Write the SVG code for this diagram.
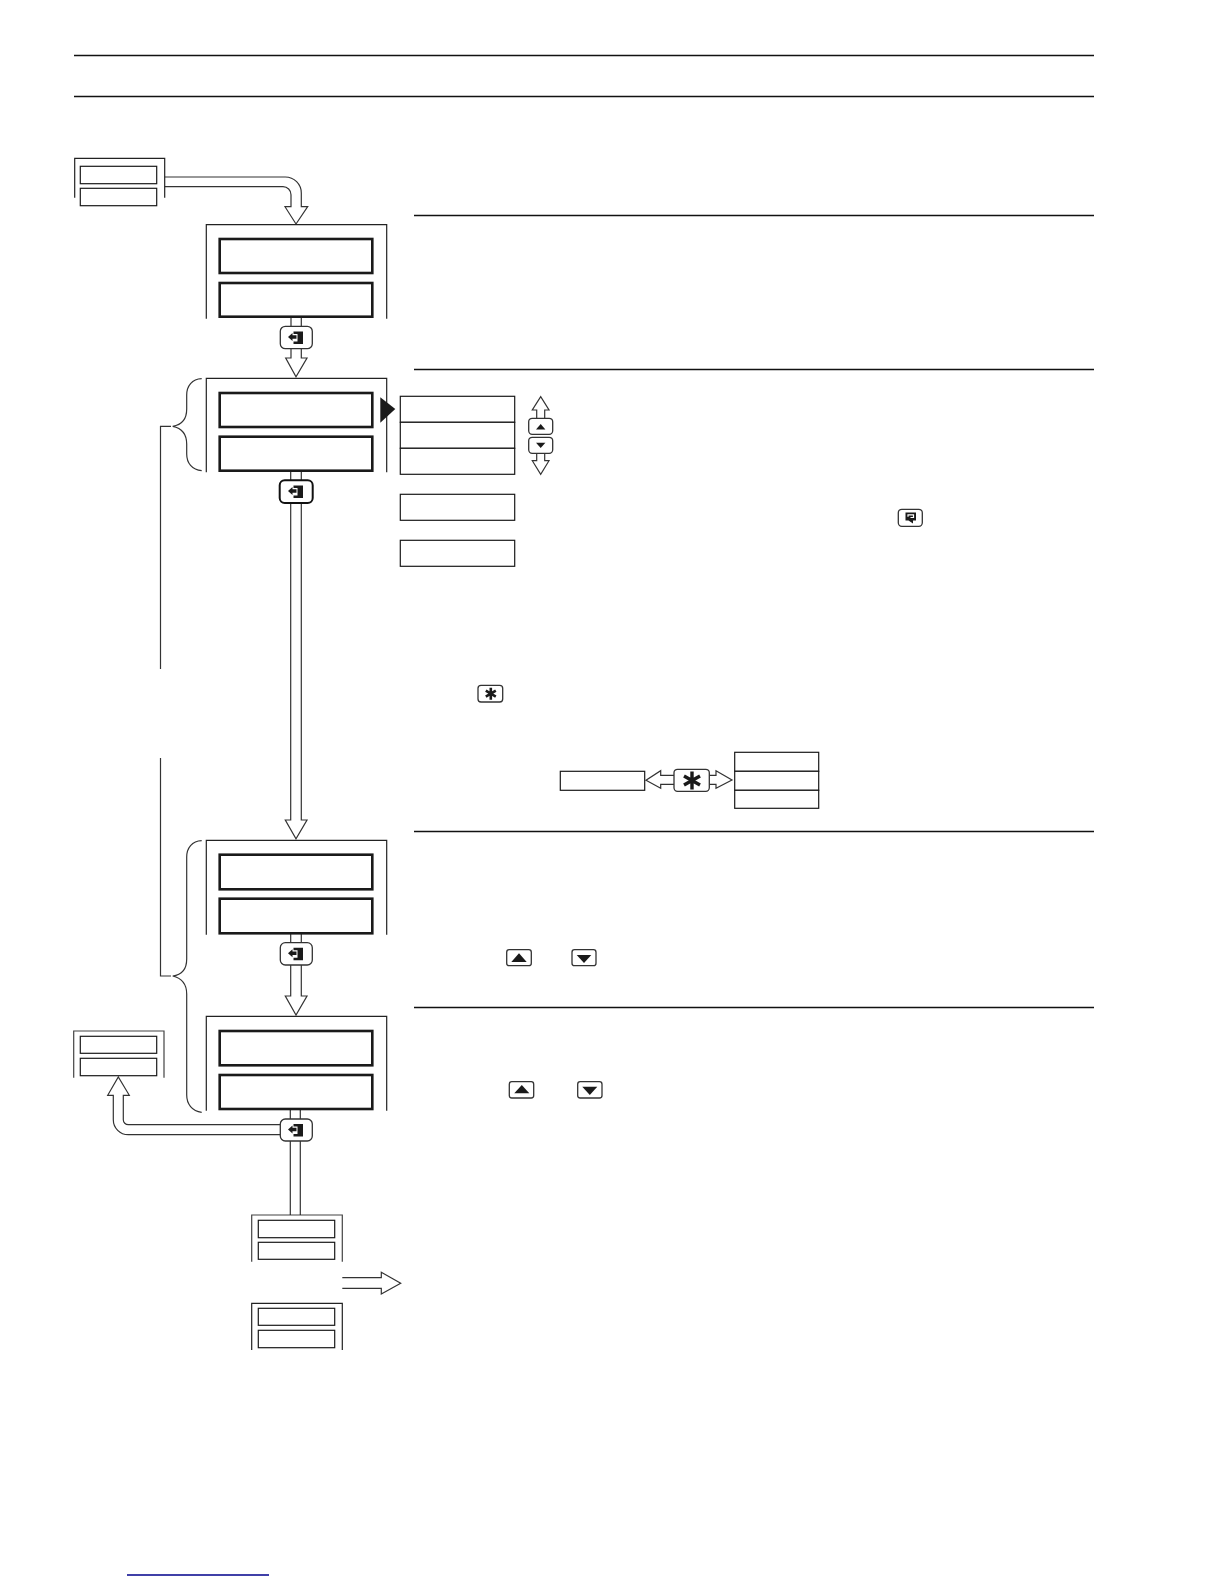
<svg xmlns="http://www.w3.org/2000/svg" xmlns:xlink="http://www.w3.org/1999/xlink" width="1224" height="1584" viewBox="0 0 1224 1584">
<style>
.rule{fill:none;stroke:#111;stroke-width:1.4}
.frame{fill:none;stroke:#222;stroke-width:1.2}
.thick{fill:#fff;stroke:#1a1a1a;stroke-width:2.6}
.box{fill:#fff;stroke:#1a1a1a;stroke-width:1.2}
.arrow{fill:#fff;stroke:#333;stroke-width:1.2;stroke-linejoin:miter}
.edge{fill:none;stroke:#333;stroke-width:1.2}
.key{fill:#fff;stroke:#333;stroke-width:1.3}
.keyb{fill:#fff;stroke:#111;stroke-width:2}
.glyph{fill:#1a1a1a;stroke:none}
.star{stroke:#1a1a1a;stroke-linecap:butt;fill:none}
</style>
<defs>
<g id="enter-icon">
<path class="glyph" d="M-2.5 -6.5H7V6H-2.5V3.5H1.5V-4H-2.5Z"/>
<path class="glyph" d="M-8 -1L-3.5 -5V-2.8H0.5V0.8H-3.5V3Z"/>
</g>
<g id="star-small"><path class="star" stroke-width="2.6" d="M0 -6V6M-5 -3L5 3M-5 3L5 -3"/></g>
</defs>
<rect width="1224" height="1584" fill="#fff"/>

<g id="rules">
<path class="rule" d="M74 55.5H1094M74 96.5H1094M414 215.5H1094M414 369.5H1094M414 831.5H1094M414 1007.5H1094"/>
<path d="M127 1575H269" stroke="#00008b" stroke-width="1.4" fill="none"/>
</g>

<g id="connectors">
<path class="arrow" d="M164.7 177H285.3A16 16 0 0 1 301.3 193V206.7H307.7L296 224L285 206.7H291V194.7A8 8 0 0 0 283 186.7H164.7"/>
<path class="arrow" d="M291 318V358H285.7L296 376.7L307 358H301.3V318"/>
<path class="arrow" d="M290.7 472V820H285.3L296 838.7L307 820H301.3V472"/>
<path class="arrow" d="M290.7 934V996H285.3L296 1015L307 996H301.3V934"/>
<path class="arrow" d="M280.3 1134.7H128.3A15 15 0 0 1 113.3 1119.7V1095.3H107.7L118.3 1077L129.3 1095.3H123.3V1119.7A5 5 0 0 0 128.3 1124.7H280.3"/>
<path class="edge" d="M290.3 1110V1215M300.3 1110V1215"/>
<path class="arrow" d="M342.3 1277.7H381.3V1272.3L400.7 1283.3L381.3 1294V1288.3H342.3"/>
<path class="arrow" d="M536.7 418.3V410H532.3L540.7 396.7L549 410H544.7V418.3"/>
<path class="arrow" d="M536.7 453.3V460.7H532.3L540.7 474.3L549 460.7H544.7V453.3"/>
<path class="arrow" d="M674 775.3H660.7V770.7L646 780.3L660.7 788.3V784.3H674"/>
<path class="arrow" d="M709.3 775.3H716V770.7L732 780L716 788.3V784.3H709.3"/>
<path class="edge" d="M201.7 378.7C192 379 186.7 386 186.7 395V409C186.7 420 181 425 172.7 426.3C181 428 186.7 433 186.7 444V454C186.7 463 192 470 201.7 470.7"/>
<path class="edge" d="M171 426.3H160.5V669"/>
<path class="edge" d="M201.7 840.7C192 841 186.7 848 186.7 857V959C186.7 970 181 975 172.7 976C181 978 186.7 983 186.7 994V1095C186.7 1104 192 1111 201.7 1112.3"/>
<path class="edge" d="M160.5 758V976H171"/>
</g>

<g id="panel-start">
<path class="frame" d="M74.7 197.7V158.3H164.7V197.7"/>
<rect class="box" x="80.3" y="166.3" width="76.4" height="17.4"/>
<rect class="box" x="80.3" y="188.3" width="76.4" height="17.4"/>
</g>
<g id="panel-a">
<path class="frame" d="M206.3 318.7V224.7H386.7V318.7"/>
<rect class="thick" x="219.7" y="239" width="152.6" height="34"/>
<rect class="thick" x="219.7" y="283" width="152.6" height="33.7"/>
</g>
<g id="panel-b">
<path class="frame" d="M206.3 472.3V378.3H386.7V472.3"/>
<rect class="thick" x="219.7" y="393" width="152.6" height="34"/>
<rect class="thick" x="219.7" y="436.7" width="152.6" height="34"/>
</g>
<g id="panel-c">
<path class="frame" d="M206.3 934.7V840.3H386.7V934.7"/>
<rect class="thick" x="219.7" y="854.7" width="152.6" height="34.6"/>
<rect class="thick" x="219.7" y="898.7" width="152.6" height="34.6"/>
</g>
<g id="panel-d">
<path class="frame" d="M206.3 1110.7V1016.3H386.7V1110.7"/>
<rect class="thick" x="219.7" y="1031" width="152.6" height="34.3"/>
<rect class="thick" x="219.7" y="1075" width="152.6" height="34"/>
</g>
<g id="panel-exit">
<path class="frame" stroke-opacity="0.85" d="M73.7 1077.7V1031H164V1077.7"/>
<rect class="box" x="80.3" y="1036.3" width="76.4" height="17"/>
<rect class="box" x="80.3" y="1058.3" width="76.4" height="17.4"/>
</g>
<g id="panel-e">
<path class="frame" stroke-opacity="0.85" d="M251.7 1261.7V1215H342.3V1261.7"/>
<rect class="box" x="258.3" y="1220.3" width="76.4" height="17.4"/>
<rect class="box" x="258.3" y="1242.3" width="76.4" height="17"/>
</g>
<g id="panel-f">
<path class="frame" d="M251.7 1350V1303.3H342.3V1350"/>
<rect class="box" x="258.3" y="1308.3" width="76.4" height="17"/>
<rect class="box" x="258.3" y="1330.3" width="76.4" height="17.4"/>
</g>

<g id="key-enter-a"><rect class="key" x="280.3" y="326.3" width="32" height="22.4" rx="5"/><use xlink:href="#enter-icon" href="#enter-icon" x="296" y="338"/></g>
<g id="key-enter-b"><rect class="keyb" x="279.7" y="480.3" width="33" height="22.7" rx="5"/><use xlink:href="#enter-icon" href="#enter-icon" x="296" y="492"/></g>
<g id="key-enter-c"><rect class="key" x="280.3" y="942.7" width="32" height="22.3" rx="5"/><use xlink:href="#enter-icon" href="#enter-icon" x="296" y="954.3"/></g>
<g id="key-enter-d"><rect class="key" x="280.3" y="1119" width="32" height="22" rx="5"/><use xlink:href="#enter-icon" href="#enter-icon" x="296" y="1130.5"/></g>

<g id="pointer"><path class="glyph" d="M380.3 397.3L395.3 409L380.3 422.7Z"/></g>

<g id="options">
<rect class="box" x="400.3" y="396.3" width="114.4" height="26"/>
<rect class="box" x="400.3" y="422.3" width="114.4" height="26"/>
<rect class="box" x="400.3" y="448.3" width="114.4" height="26"/>
</g>
<g id="box-1"><rect class="box" x="400.3" y="494.3" width="114.4" height="26"/></g>
<g id="box-2"><rect class="box" x="400.3" y="540.3" width="114.4" height="26"/></g>

<g id="key-up-main"><rect class="key" x="528.7" y="418.3" width="24" height="16" rx="3.5"/><path class="glyph" d="M536 429.5L540.7 424L545.4 429.5Z"/></g>
<g id="key-down-main"><rect class="key" x="528.7" y="437.3" width="24" height="16" rx="3.5"/><path class="glyph" d="M536 442.7L545.4 442.7L540.7 448Z"/></g>

<g id="key-return"><rect class="key" x="898.3" y="509.3" width="24" height="17" rx="3.5"/><path class="glyph" d="M905.5 512.5H916V520.5H913V523.5L908.5 520.5H905.5Z"/><path d="M908 516.8V514.8H913.5V517.5H910.5" stroke="#fff" stroke-width="1.2" fill="none"/></g>

<g id="key-star-small"><rect class="key" x="478" y="685.3" width="24.7" height="16.7" rx="3"/><use xlink:href="#star-small" href="#star-small" x="490.8" y="693.7"/></g>

<g id="key-star"><rect class="key" x="674" y="769.3" width="35.3" height="22" rx="3.5"/><path class="star" stroke-width="3.4" d="M692 771.5V789.5M684 776L700 785M684 785L700 776"/></g>
<g id="box-left"><rect class="box" x="560.3" y="771.3" width="84.4" height="19"/></g>
<g id="stack-right">
<rect class="box" x="734.7" y="752.3" width="84" height="19"/>
<rect class="box" x="734.7" y="771.3" width="84" height="19"/>
<rect class="box" x="734.7" y="790.3" width="84" height="18"/>
</g>

<g id="key-up-c"><rect class="key" x="506.7" y="949.7" width="24.6" height="16" rx="2.5"/><path class="glyph" d="M511.3 962L519 953.2L526.7 962Z"/></g>
<g id="key-down-c"><rect class="key" x="572" y="949.7" width="24" height="16" rx="2.5"/><path class="glyph" d="M576.7 955H591.3L584 963Z"/></g>
<g id="key-up-d"><rect class="key" x="509.3" y="1081.7" width="24.4" height="16.3" rx="2.5"/><path class="glyph" d="M514.3 1093.3L521.8 1085L529.3 1093.3Z"/></g>
<g id="key-down-d"><rect class="key" x="577.7" y="1081.7" width="24.3" height="16.3" rx="2.5"/><path class="glyph" d="M582.3 1086.7H597.3L589.8 1095Z"/></g>
</svg>
